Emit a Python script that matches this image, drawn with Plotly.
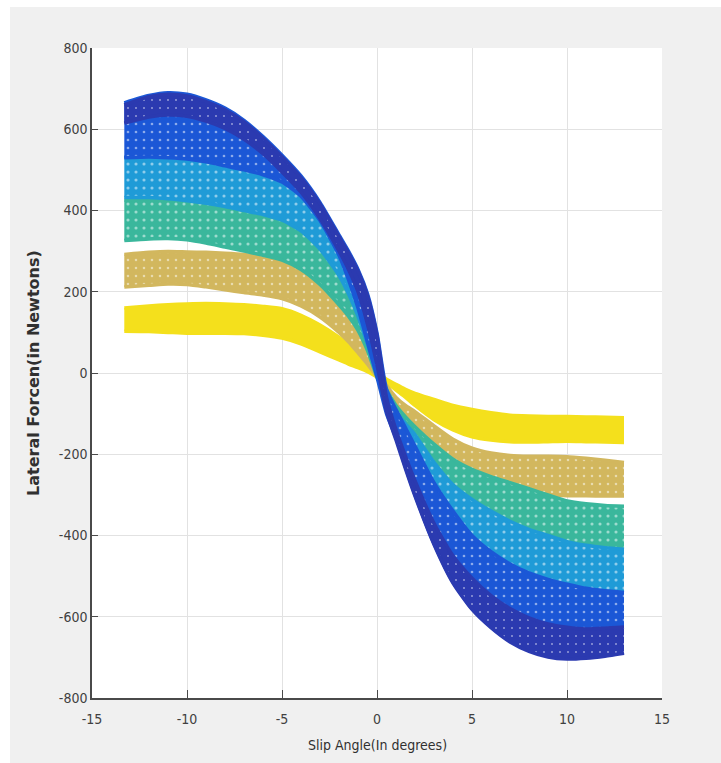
import plotly.graph_objects as go

# Slip angle sample positions (degrees) where the band envelopes were read
SLIP_ANGLE = [-13.3, -12, -11, -10, -9, -8, -7, -6, -5, -4, -3, -2, -1.5, -1, -0.5, 0,
              0.5, 1, 1.5, 2, 3, 4, 5, 6, 7, 8, 9, 10, 11, 12, 13]

# Lateral force envelopes (N) of each load group (upper / lower edge of the band of curves)
YELLOW_UPPER = [160, 165, 168, 170, 171, 170, 168, 164, 158, 142, 118, 88, 70, 48, 25, 3,
                -15, -28, -40, -50, -65, -80, -90, -98, -104, -106, -107, -107, -108, -109, -110]
YELLOW_LOWER = [103, 102, 100, 98, 98, 98, 97, 93, 86, 72, 52, 32, 22, 13, 3, -10,
                -25, -42, -60, -80, -115, -140, -157, -165, -169, -170, -169, -168, -169, -170, -171]

TAN_UPPER = [292, 297, 299, 298, 297, 295, 292, 286, 277, 255, 220, 170, 140, 108, 60, 10,
             -30, -60, -80, -95, -130, -163, -185, -197, -203, -205, -205, -206, -210, -215, -220]
TAN_LOWER = [212, 216, 219, 218, 212, 205, 198, 192, 183, 165, 138, 100, 77, 50, 22, -10,
             -45, -80, -115, -150, -205, -255, -283, -292, -296, -298, -300, -302, -302, -303, -303]

GREEN_UPPER = [425, 430, 431, 428, 420, 410, 400, 390, 376, 352, 312, 255, 215, 165, 90, 15,
               -40, -80, -108, -132, -175, -212, -237, -255, -270, -285, -300, -315, -322, -326, -328]
GREEN_LOWER = [326, 330, 331, 328, 320, 310, 300, 290, 278, 255, 218, 168, 140, 105, 55, -10,
               -60, -105, -145, -185, -255, -310, -350, -372, -388, -400, -415, -428, -432, -434, -434]

LIGHTBLUE_UPPER = [532, 533, 531, 527, 520, 510, 500, 490, 475, 440, 385, 300, 240, 170, 90, 15,
                   -45, -95, -125, -152, -220, -275, -311, -340, -365, -385, -400, -415, -424, -430, -434]
LIGHTBLUE_LOWER = [432, 432, 429, 424, 418, 410, 400, 390, 376, 350, 305, 240, 195, 140, 70, -5,
                   -75, -140, -200, -250, -330, -400, -450, -478, -495, -510, -525, -540, -545, -547, -547]

BLUE_UPPER = [665, 683, 690, 686, 672, 652, 622, 582, 536, 485, 420, 340, 300, 255, 195, 98,
              -40, -90, -135, -180, -270, -340, -400, -440, -470, -492, -508, -520, -530, -536, -540]
BLUE_LOWER = [530, 532, 530, 527, 520, 510, 500, 488, 470, 435, 375, 290, 230, 160, 75, -10,
              -100, -160, -232, -300, -420, -515, -580, -625, -660, -683, -697, -702, -700, -695, -688]

NAVY_UPPER = [660, 680, 686, 682, 668, 648, 618, 578, 532, 481, 416, 336, 296, 251, 190, 92,
              -60, -140, -205, -265, -370, -450, -505, -548, -580, -603, -618, -626, -630, -628, -625]
NAVY_LOWER = [615, 630, 635, 632, 620, 602, 575, 540, 495, 445, 380, 300, 255, 200, 120, 20,
              -95, -165, -236, -303, -422, -517, -582, -627, -662, -685, -699, -704, -702, -697, -690]

GROUP_NAMES = ["yellow", "tan", "green", "light blue", "blue", "navy"]
GROUP_COLORS = ["#f4e01c", "#d2b75e", "#3ab79c", "#1f9bd7", "#1b57d6", "#2b3ab0"]
GROUP_UPPER = [YELLOW_UPPER, TAN_UPPER, GREEN_UPPER, LIGHTBLUE_UPPER, BLUE_UPPER, NAVY_UPPER]
GROUP_LOWER = [YELLOW_LOWER, TAN_LOWER, GREEN_LOWER, LIGHTBLUE_LOWER, BLUE_LOWER, NAVY_LOWER]
GROUP_HOLES = [0.0, 0.08, 0.12, 0.12, 0.09, 0.05]

X_TICKS = [-15, -10, -5, 0, 5, 10, 15]
X_TICK_TEXT = ["-15", "-10", "-5", "0", "5", "10", "15"]
Y_TICKS = [-800, -600, -400, -200, 0, 200, 400, 600, 800]
Y_TICK_TEXT = ["-800", "-600", "-400", "-200", "0", "200", "400", "600", "800"]

X_TITLE = "Slip Angle(In degrees)"
Y_TITLE = "Lateral Forcen(in Newtons)"

fig = go.Figure()
for name, color, up, lo, holes in zip(GROUP_NAMES, GROUP_COLORS, GROUP_UPPER, GROUP_LOWER, GROUP_HOLES):
    edge = dict(color=color, width=3.5, shape="spline", smoothing=0.6)
    fig.add_trace(go.Scatter(x=SLIP_ANGLE, y=lo, mode="lines", name=name, line=edge,
                             showlegend=False, hoverinfo="skip"))
    kw = dict(fill="tonexty", fillcolor=color)
    if holes > 0:
        kw["fillpattern"] = dict(shape=".", fgcolor="white", bgcolor=color, size=8, solidity=holes)
    fig.add_trace(go.Scatter(x=SLIP_ANGLE, y=up, mode="lines", name=name, line=edge,
                             showlegend=False, hoverinfo="skip", **kw))

W, H = 721, 763
L_M, R_M, T_M, B_M = 92, 59, 48, 65
pw = W - L_M - R_M
ph = H - T_M - B_M

def px_x(px):
    return (px - L_M) / pw

def px_y(py):
    return (H - B_M - py) / ph

narrow = "Liberation Sans Narrow, DejaVu Sans Condensed, Arial Narrow, sans-serif"

fig.update_layout(
    width=W, height=H,
    margin=dict(l=L_M, r=R_M, t=T_M, b=B_M),
    paper_bgcolor="#f0f0f0",
    plot_bgcolor="white",
    showlegend=False,
    xaxis=dict(range=[-15, 15], tickvals=X_TICKS, ticktext=X_TICK_TEXT,
               showgrid=True, gridcolor="#e2e2e2", gridwidth=1, zeroline=False,
               showline=True, linecolor="#4a4a4a", linewidth=1.5,
               ticks="inside", ticklen=8, tickcolor="#4a4a4a", tickwidth=1,
               ticklabelstandoff=7,
               tickfont=dict(family=narrow, size=14, color="#404040")),
    yaxis=dict(range=[-800, 800], tickvals=Y_TICKS, ticktext=Y_TICK_TEXT,
               showgrid=True, gridcolor="#e2e2e2", gridwidth=1, zeroline=False,
               showline=True, linecolor="#4a4a4a", linewidth=1.5,
               ticks="inside", ticklen=6, tickcolor="#4a4a4a", tickwidth=1,
               tickfont=dict(family=narrow, size=14, color="#404040")),
    annotations=[
        dict(text=X_TITLE, xref="paper", yref="paper", x=px_x(377), y=px_y(745),
             xanchor="center", yanchor="middle",
             showarrow=False, font=dict(family=narrow, size=14, color="#303030")),
        dict(text=Y_TITLE, xref="paper", yref="paper", x=px_x(33), y=px_y(373),
             xanchor="center", yanchor="middle",
             textangle=-90, showarrow=False,
             font=dict(family="DejaVu Sans, Arial, sans-serif", size=16, color="#303030", weight="bold")),
    ],
    shapes=[
        dict(type="rect", xref="paper", yref="paper", x0=px_x(0), x1=px_x(10), y0=px_y(H), y1=px_y(0),
             fillcolor="white", line=dict(width=0), layer="below"),
        dict(type="rect", xref="paper", yref="paper", x0=px_x(0), x1=px_x(W), y0=px_y(7), y1=px_y(0),
             fillcolor="white", line=dict(width=0), layer="below"),
    ],
)

fig.write_html("out.html")
